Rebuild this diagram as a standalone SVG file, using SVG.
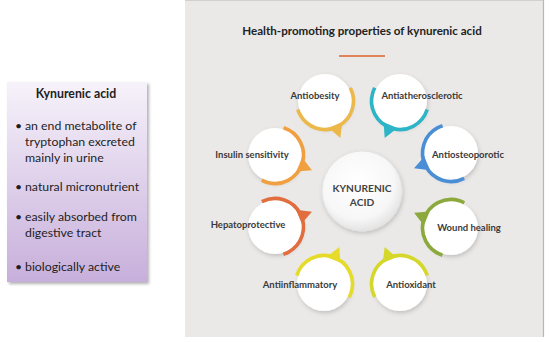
<svg xmlns="http://www.w3.org/2000/svg" width="550" height="342" viewBox="0 0 550 342">
<style>
.lab{font-family:Lato,'Open Sans',sans-serif;font-weight:bold;font-size:9.5px;fill:#3a3a3a;text-anchor:middle}
.box{font-family:Lato,'Open Sans',sans-serif;font-size:12.3px;fill:#1e1e1e}
.disk{fill:#ffffff}
.arc{fill:none;stroke-width:3.6;stroke-dasharray:94.5 90}
</style>
<defs>
<linearGradient id="purp" x1="0" y1="0" x2="0" y2="1">
<stop offset="0" stop-color="#F6F2FA"/>
<stop offset="1" stop-color="#C7AFDB"/>
</linearGradient>
<radialGradient id="cg" cx="0.45" cy="0.4" r="0.6">
<stop offset="0" stop-color="#ffffff"/>
<stop offset="0.75" stop-color="#f7f7f7"/>
<stop offset="1" stop-color="#e4e4e4"/>
</radialGradient>
<filter id="sh" x="-30%" y="-30%" width="160%" height="160%">
<feDropShadow dx="1" dy="2" stdDeviation="2" flood-color="#000" flood-opacity="0.18"/>
</filter>
<filter id="bsh" x="-10%" y="-10%" width="125%" height="120%">
<feDropShadow dx="2" dy="2" stdDeviation="1.5" flood-color="#000" flood-opacity="0.3"/>
</filter>
<path id="tail" d="M26,-8 L40,0 L26,7 Z"/>
</defs>

<rect x="0" y="0" width="550" height="342" fill="#ffffff"/>

<g id="panel">
<rect x="185" y="0" width="358" height="337" fill="#EBE9E8"/>
<line x1="543.5" y1="0" x2="543.5" y2="337" stroke="#b9b7b6" stroke-width="1.2"/>
<line x1="185" y1="0.5" x2="543" y2="0.5" stroke="#d2d0cf" stroke-width="1"/>
<text x="362" y="35" font-family="Lato,'Open Sans',sans-serif" font-weight="bold" font-size="11.6px" fill="#222" text-anchor="middle">Health-promoting properties of kynurenic acid</text>
<line x1="339" y1="56" x2="385" y2="56" stroke="#E0845A" stroke-width="2"/>
</g>

<g id="infobox">
<rect x="7" y="82" width="140" height="200" fill="url(#purp)" filter="url(#bsh)"/>
<text x="76" y="98" class="box" font-weight="bold" text-anchor="middle">Kynurenic acid</text>
<text x="15" y="130" class="box">•</text>
<text x="25" y="130" class="box">an end metabolite of</text>
<text x="25" y="146" class="box">tryptophan excreted</text>
<text x="25" y="162" class="box">mainly in urine</text>
<text x="15" y="191" class="box">•</text>
<text x="25" y="191" class="box">natural micronutrient</text>
<text x="15" y="221" class="box">•</text>
<text x="25" y="221" class="box">easily absorbed from</text>
<text x="25" y="237" class="box">digestive tract</text>
<text x="15" y="271" class="box">•</text>
<text x="25" y="271" class="box">biologically active</text>
</g>

<g id="connectors"></g>

<g id="center">
<circle cx="362" cy="191" r="40" fill="url(#cg)" stroke="#e2e2e2" stroke-width="1" filter="url(#sh)"/>
<text x="362" y="192" font-family="Lato,'Open Sans',sans-serif" font-weight="bold" font-size="10.2px" fill="#444" text-anchor="middle">KYNURENIC</text>
<text x="362" y="206" font-family="Lato,'Open Sans',sans-serif" font-weight="bold" font-size="10.2px" fill="#444" text-anchor="middle">ACID</text>
</g>

<g id="antiobesity">
<circle class="disk" cx="325" cy="101" r="27" filter="url(#sh)"/>
<circle class="arc" cx="325" cy="101" r="28.5" stroke="#EDB84A" transform="rotate(-27.5 325 101)"/>
<use href="#tail" fill="#EDB84A" transform="translate(325 101) rotate(67.5)"/>
<text class="lab" x="315" y="99">Antiobesity</text>
</g>

<g id="antiatherosclerotic">
<circle class="disk" cx="400" cy="101" r="27" filter="url(#sh)"/>
<circle class="arc" cx="400" cy="101" r="28.5" stroke="#2DB4C6" transform="rotate(17.5 400 101)"/>
<use href="#tail" fill="#2DB4C6" transform="translate(400 101) rotate(112.5)"/>
<text class="lab" x="422" y="99">Antiatherosclerotic</text>
</g>

<g id="antiosteoporotic">
<circle class="disk" cx="451" cy="153" r="27" filter="url(#sh)"/>
<circle class="arc" cx="451" cy="153" r="28.5" stroke="#4A8ED6" transform="rotate(62.5 451 153)"/>
<use href="#tail" fill="#4A8ED6" transform="translate(451 153) rotate(157.5)"/>
<text class="lab" x="468" y="158">Antiosteoporotic</text>
</g>

<g id="wound-healing">
<circle class="disk" cx="451" cy="228" r="27" filter="url(#sh)"/>
<circle class="arc" cx="451" cy="228" r="28.5" stroke="#8CA93C" transform="rotate(107.5 451 228)"/>
<use href="#tail" fill="#8CA93C" transform="translate(451 228) rotate(202.5)"/>
<text class="lab" x="469" y="231">Wound healing</text>
</g>

<g id="antioxidant">
<circle class="disk" cx="400" cy="284" r="27" filter="url(#sh)"/>
<circle class="arc" cx="400" cy="284" r="28.5" stroke="#D5D82A" transform="rotate(152.5 400 284)"/>
<use href="#tail" fill="#D5D82A" transform="translate(400 284) rotate(247.5)"/>
<text class="lab" x="411" y="288">Antioxidant</text>
</g>

<g id="antiinflammatory">
<circle class="disk" cx="324" cy="284" r="27" filter="url(#sh)"/>
<circle class="arc" cx="324" cy="284" r="28.5" stroke="#E6DB2A" transform="rotate(197.5 324 284)"/>
<use href="#tail" fill="#E6DB2A" transform="translate(324 284) rotate(292.5)"/>
<text class="lab" x="300" y="288">Antiinflammatory</text>
</g>

<g id="hepatoprotective">
<circle class="disk" cx="275" cy="227" r="27" filter="url(#sh)"/>
<circle class="arc" cx="275" cy="227" r="28.5" stroke="#E06E3E" transform="rotate(242.5 275 227)"/>
<use href="#tail" fill="#E06E3E" transform="translate(275 227) rotate(337.5)"/>
<text class="lab" x="248" y="228">Hepatoprotective</text>
</g>

<g id="insulin-sensitivity">
<circle class="disk" cx="275" cy="155" r="27" filter="url(#sh)"/>
<circle class="arc" cx="275" cy="155" r="28.5" stroke="#F0A040" transform="rotate(-72.5 275 155)"/>
<use href="#tail" fill="#F0A040" transform="translate(275 155) rotate(22.5)"/>
<text class="lab" x="252" y="158">Insulin sensitivity</text>
</g>
</svg>
